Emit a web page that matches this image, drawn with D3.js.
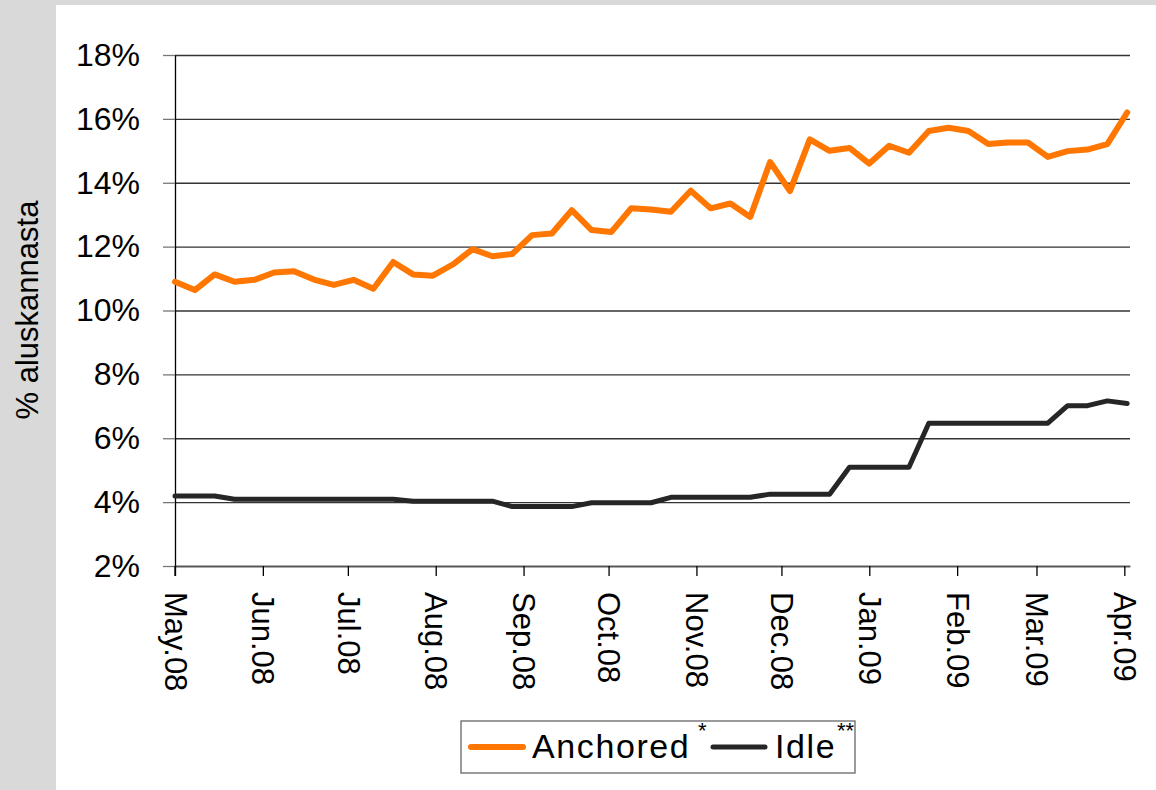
<!DOCTYPE html>
<html>
<head>
<meta charset="utf-8">
<script src="https://cdn.jsdelivr.net/npm/d3@7"></script>
<style>
  html, body { margin: 0; padding: 0; background: #fff; }
  svg { display: block; font-family: "Liberation Sans", Arial, sans-serif; }
</style>
</head>
<body>
<div id="chart"></div>
<script>
// weekly observations
const weeks = [
  "2008-05-01", "2008-05-08", "2008-05-15", "2008-05-22", "2008-05-29",
  "2008-06-05", "2008-06-12", "2008-06-19", "2008-06-26",
  "2008-07-03", "2008-07-10", "2008-07-17", "2008-07-24", "2008-07-31",
  "2008-08-07", "2008-08-14", "2008-08-21", "2008-08-28",
  "2008-09-04", "2008-09-11", "2008-09-18", "2008-09-25",
  "2008-10-02", "2008-10-09", "2008-10-16", "2008-10-23", "2008-10-30",
  "2008-11-06", "2008-11-13", "2008-11-20", "2008-11-27",
  "2008-12-04", "2008-12-11", "2008-12-18", "2008-12-25",
  "2009-01-01", "2009-01-08", "2009-01-15", "2009-01-22", "2009-01-29",
  "2009-02-05", "2009-02-12", "2009-02-19", "2009-02-26",
  "2009-03-05", "2009-03-12", "2009-03-19", "2009-03-26",
  "2009-04-02"
];

const anchored = [
  10.90, 10.64, 11.13, 10.90, 10.96, 11.19, 11.23, 10.97, 10.80, 10.96,
  10.68, 11.52, 11.13, 11.09, 11.44, 11.92, 11.70, 11.77, 12.36, 12.41,
  13.14, 12.52, 12.46, 13.20, 13.16, 13.09, 13.75, 13.20, 13.35, 12.93,
  14.65, 13.74, 15.36, 15.00, 15.09, 14.60, 15.16, 14.94, 15.62, 15.72,
  15.62, 15.21, 15.26, 15.26, 14.81, 14.99, 15.04, 15.21, 16.20
];

const idle = [
  4.19, 4.19, 4.19, 4.09, 4.09, 4.09, 4.09, 4.09, 4.09, 4.09,
  4.09, 4.09, 4.03, 4.03, 4.03, 4.03, 4.03, 3.86, 3.86, 3.86,
  3.86, 3.98, 3.98, 3.98, 3.98, 4.15, 4.15, 4.15, 4.15, 4.15,
  4.25, 4.25, 4.25, 4.25, 5.09, 5.09, 5.09, 5.09, 6.47, 6.47,
  6.47, 6.47, 6.47, 6.47, 6.47, 7.02, 7.02, 7.17, 7.09
];

const monthTicks = [
  "2008-05-01", "2008-06-01", "2008-07-01", "2008-08-01", "2008-09-01", "2008-10-01",
  "2008-11-01", "2008-12-01", "2009-01-01", "2009-02-01", "2009-03-01", "2009-04-01"
];
const monthLabels = [
  "May.08", "Jun.08", "Jul.08", "Aug.08", "Sep.08", "Oct.08",
  "Nov.08", "Dec.08", "Jan.09", "Feb.09", "Mar.09", "Apr.09"
];
const yTicks = [2, 4, 6, 8, 10, 12, 14, 16, 18];

const parseDate = d3.timeParse("%Y-%m-%d");
const dates = weeks.map(parseDate);
const tickDates = monthTicks.map(parseDate);

const series = [
  { name: "Anchored", sup: "*", color: "#ff7600", width: 6, values: anchored },
  { name: "Idle", sup: "**", color: "#262626", width: 5, values: idle }
];

const W = 1156, H = 790;
const margin = { top: 55, right: 26, bottom: 224, left: 175 };
const width = W - margin.left - margin.right;
const height = H - margin.top - margin.bottom;

const svg = d3.select("#chart").append("svg")
  .attr("width", W)
  .attr("height", H);

// grey frame on the left and top
svg.append("rect").attr("width", W).attr("height", H).attr("fill", "#d9d9d9");
svg.append("rect").attr("x", 56).attr("y", 5).attr("width", W - 56).attr("height", H - 5).attr("fill", "#fff");

const g = svg.append("g").attr("transform", `translate(${margin.left},${margin.top})`);

const x = d3.scaleTime()
  .domain([parseDate("2008-05-01"), parseDate("2009-04-03")])
  .range([0, width]);

const y = d3.scaleLinear()
  .domain([2, 18])
  .range([height, 0]);

// horizontal gridlines
g.append("g")
  .call(d3.axisLeft(y).tickValues(yTicks).tickSize(-width).tickFormat(""))
  .call(a => a.select(".domain").remove())
  .selectAll(".tick line")
  .attr("stroke", "#333")
  .attr("stroke-width", 1.3);

// y axis
const yAxis = g.append("g")
  .call(d3.axisLeft(y).tickValues(yTicks).tickSize(12).tickSizeOuter(0).tickPadding(23)
    .tickFormat(d => d + "%"));
yAxis.select(".domain").attr("stroke", "#000").attr("stroke-width", 1.3);
yAxis.selectAll(".tick line").attr("stroke", "#777").attr("stroke-width", 1.3);
yAxis.selectAll("text")
  .style("font-size", "32px")
  .style("font-family", "'Liberation Sans', Arial, sans-serif")
  .attr("fill", "#000");

// x axis
const xAxis = g.append("g")
  .attr("transform", `translate(0,${height})`)
  .call(d3.axisBottom(x).tickValues(tickDates).tickSize(10).tickSizeOuter(0)
    .tickFormat((d, i) => monthLabels[i]));
xAxis.select(".domain").attr("stroke", "#555").attr("stroke-width", 1.3);
xAxis.selectAll(".tick line").attr("stroke", "#000").attr("stroke-width", 1.3);
xAxis.selectAll("text")
  .attr("transform", "rotate(90)")
  .attr("x", 26)
  .attr("y", 0)
  .attr("dy", "0.35em")
  .attr("text-anchor", "start")
  .style("font-size", "31px")
  .style("font-family", "'Liberation Sans', Arial, sans-serif")
  .attr("fill", "#000");

// extend y axis down to the first tick
g.append("line")
  .attr("x1", 0).attr("x2", 0)
  .attr("y1", height).attr("y2", height + 10)
  .attr("stroke", "#000").attr("stroke-width", 1.3);

// y axis title
svg.append("text")
  .attr("transform", "translate(38,310) rotate(-90)")
  .attr("text-anchor", "middle")
  .style("font-size", "31px")
  .attr("fill", "#000")
  .text("% aluskannasta");

// lines
const line = d3.line()
  .x((d, i) => x(dates[i]))
  .y(d => y(d));

g.selectAll(".line-path")
  .data(series)
  .enter()
  .append("path")
  .attr("class", "line-path")
  .attr("fill", "none")
  .attr("stroke", d => d.color)
  .attr("stroke-width", d => d.width)
  .attr("stroke-linejoin", "round")
  .attr("stroke-linecap", "round")
  .attr("d", d => line(d.values));

// legend
const legend = svg.append("g").attr("transform", "translate(461,721)");
legend.append("rect")
  .attr("width", 394)
  .attr("height", 52)
  .attr("fill", "#fff")
  .attr("stroke", "#666")
  .attr("stroke-width", 1.3);

const items = [
  { s: series[0], lx: 10, tx: 71, sx: 237 },
  { s: series[1], lx: 252, tx: 314, sx: 376 }
];
items.forEach(it => {
  legend.append("line")
    .attr("x1", it.lx).attr("x2", it.lx + 52)
    .attr("y1", 26).attr("y2", 26)
    .attr("stroke", it.s.color)
    .attr("stroke-width", it.s.width)
    .attr("stroke-linecap", "round");
  legend.append("text")
    .attr("x", it.tx)
    .attr("y", 37)
    .style("font-size", "34px")
    .style("letter-spacing", "1.6px")
    .attr("fill", "#000")
    .text(it.s.name);
  legend.append("text")
    .attr("x", it.sx)
    .attr("y", 17)
    .style("font-size", "22px")
    .attr("fill", "#000")
    .text(it.s.sup);
});
</script>
</body>
</html>
